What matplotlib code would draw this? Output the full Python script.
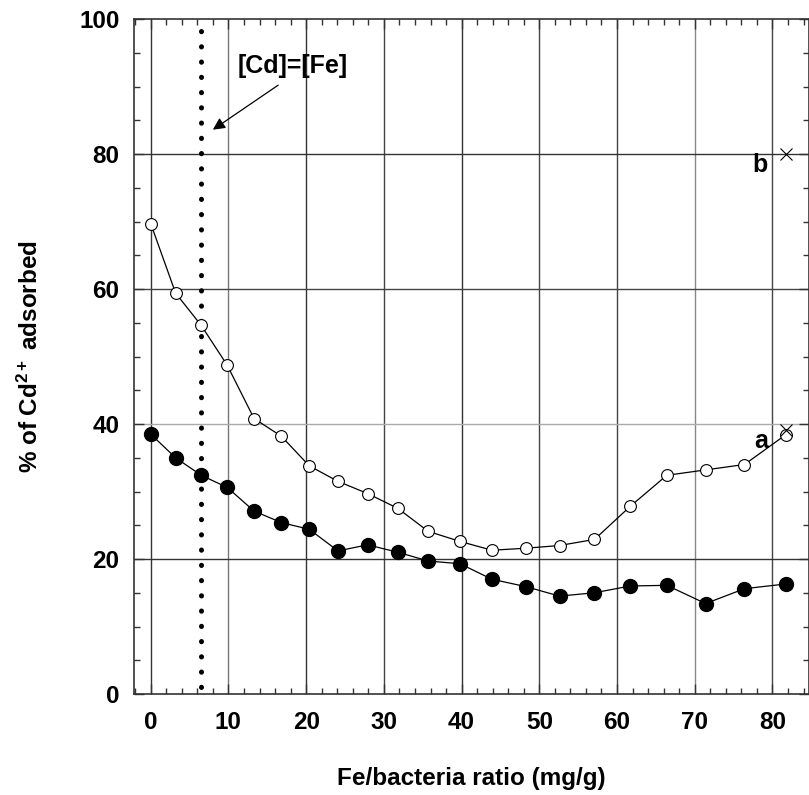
import matplotlib
matplotlib.use("Agg")
import matplotlib.pyplot as plt
from matplotlib import font_manager as fm
from matplotlib.ticker import MultipleLocator

# avoid the condensed (Narrow) variant being picked for Liberation Sans
fm.fontManager.ttflist = [f for f in fm.fontManager.ttflist if 'Narrow' not in f.fname]

plt.rcParams['font.family'] = ['Liberation Sans', 'DejaVu Sans']
plt.rcParams['mathtext.fontset'] = 'custom'
plt.rcParams['mathtext.rm'] = 'Liberation Sans:bold'
plt.rcParams['mathtext.bf'] = 'Liberation Sans:bold'
plt.rcParams['mathtext.it'] = 'Liberation Sans:bold'

ratio_x = [0, 3.2, 6.5, 9.85, 13.3, 16.8, 20.4, 24.1, 27.9, 31.8, 35.7, 39.8,
           43.9, 48.3, 52.6, 57.1, 61.7, 66.4, 71.4, 76.4, 81.7]
open_y = [69.7, 59.4, 54.6, 48.7, 40.8, 38.2, 33.8, 31.5, 29.7, 27.5, 24.1, 22.6,
          21.3, 21.6, 22.0, 22.9, 27.8, 32.4, 33.2, 34.0, 38.4]
filled_y = [38.5, 35.0, 32.4, 30.6, 27.1, 25.4, 24.4, 21.2, 22.1, 21.0, 19.7, 19.3,
            17.0, 15.9, 14.5, 15.0, 16.0, 16.1, 13.4, 15.6, 16.3]
cross_x = [81.7, 81.7]
cross_y = [80.0, 39.1]
cross_labels = ['b', 'a']
equal_x = 6.5
x_ticks = [0, 10, 20, 30, 40, 50, 60, 70, 80]
y_ticks = [0, 20, 40, 60, 80, 100]

fig = plt.figure(figsize=(8.09, 7.95), dpi=100)
ax = fig.add_axes([134/809, (795-694)/795, 1 - 134/809, (694-19)/795])
ax.set_xlim(-2.15, 84.7)
ax.set_ylim(0, 100)

# grid lines
vcol = {0: '#333333', 10: '#777777', 20: '#333333', 30: '#444444', 40: '#333333',
        50: '#444444', 60: '#444444', 70: '#888888', 80: '#444444'}
for xv in x_ticks:
    ax.axvline(xv, color=vcol[xv], lw=1.0, zorder=1)
hcol = {20: '#333333', 40: '#aaaaaa', 60: '#444444', 80: '#333333'}
for yv in [20, 40, 60, 80]:
    ax.axhline(yv, color=hcol[yv], lw=1.0, zorder=1)

# dotted [Cd]=[Fe] line
ax.plot([equal_x, equal_x], [1, 99], color='black', lw=3.6,
        linestyle=(0, (0.05, 3.0)), dash_capstyle='round', zorder=2)

ax.plot(ratio_x, open_y, '-', color='black', lw=0.9, marker='o', ms=8.5,
        mfc='white', mec='black', mew=0.8, zorder=3)
ax.plot(ratio_x, filled_y, '-', color='black', lw=0.9, marker='o', ms=10,
        mfc='black', mec='black', zorder=3)
ax.plot(cross_x, cross_y, 'x', color='black', ms=9, mew=0.8, zorder=4, clip_on=False)
for cx, cy, lab in zip(cross_x, cross_y, cross_labels):
    ax.text(cx - 2.3, cy - 2.7, lab, ha='right', va='baseline', fontsize=18,
            fontweight='bold', zorder=5)

ax.text(18.3, 93.0, '[Cd]=[Fe]', ha='center', va='center', fontsize=18,
        fontweight='bold')
ax.annotate('', xy=(8.0, 83.6), xytext=(16.4, 90.2),
            arrowprops=dict(arrowstyle='-|>', color='black', lw=0.9,
                            mutation_scale=18, shrinkA=0, shrinkB=0))

ax.set_xticks(x_ticks)
ax.set_yticks(y_ticks)
ax.xaxis.set_minor_locator(MultipleLocator(2))
ax.yaxis.set_minor_locator(MultipleLocator(5))
ax.tick_params(which='both', direction='in', top=True, right=True,
               color='#333333', width=1.0)
ax.tick_params(which='major', length=7, labelsize=17.5)
ax.tick_params(axis='x', which='major', pad=12.5)
ax.tick_params(axis='y', which='major', pad=10.5)
ax.tick_params(which='minor', length=4)
for lab in ax.get_xticklabels() + ax.get_yticklabels():
    lab.set_fontweight('bold')
for sp in ax.spines.values():
    sp.set_color('#333333')
    sp.set_linewidth(1.2)

fig.text(471.5/809, 1 - 785/795, 'Fe/bacteria ratio (mg/g)', ha='center',
         va='baseline', fontsize=17.5, fontweight='bold')
fig.text(38/809, 1 - 357/795, '% of Cd$^{2+}$ adsorbed', ha='center',
         va='baseline', rotation=90, rotation_mode='anchor',
         fontsize=17.5, fontweight='bold')

fig.savefig('out.png', dpi=100)
